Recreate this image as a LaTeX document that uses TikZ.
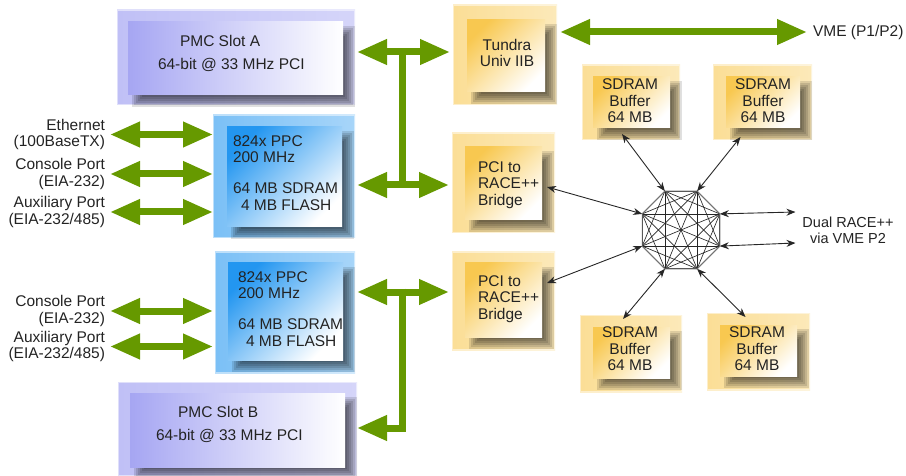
\documentclass[tikz,border=0pt]{standalone}
\usepackage{fontspec}
\setmainfont{Liberation Sans}
\usetikzlibrary{arrows.meta,calc}
\definecolor{gr}{RGB}{102,153,0}
\definecolor{pmccol}{RGB}{150,150,240}
\definecolor{ppccol}{RGB}{35,150,240}
\definecolor{yelcol}{RGB}{248,200,80}
\definecolor{txtcol}{RGB}{35,35,35}
\pgfdeclarelayer{bg}
\pgfdeclarelayer{shadowlayer}
\pgfsetlayers{bg,shadowlayer,main}
\begin{document}
\begin{tikzpicture}[x=1pt,y=-1pt,
 txt/.style={font=\fontsize{15.5}{16.5}\selectfont, text=txtcol, inner sep=0pt, outer sep=0pt},
 frame/.style={rectangle, inner sep=0pt, outer sep=0pt, left color=#1!60!white, right color=#1!40!white, draw=white, draw opacity=0.5, line width=2.5pt},
 innerbox/.style 2 args={rectangle, inner sep=0pt, outer sep=0pt, top color=#1, bottom color=white, shading angle=#2},
 shadowstep/.style={fill=black, fill opacity=0.12},
 garrow/.style={draw=gr, line width=7pt, {Triangle[length=30pt,width=24pt]}-{Triangle[length=30pt,width=24pt]}},
 garrowend/.style={draw=gr, line width=7pt, line join=miter, -{Triangle[length=30pt,width=24pt]}},
 gline/.style={draw=gr, line width=7pt},
 barrow/.style={draw=black!85, line width=0.9pt, {Stealth[length=9pt,width=7pt]}-{Stealth[length=9pt,width=7pt]}},
 mesh/.style={draw=black!85, line width=0.65pt},
 meshout/.style={draw=black!55, line width=0.9pt}
]
\useasboundingbox (0,0) rectangle (906,476);

% outer frames
\begin{pgfonlayer}{bg}
\node[frame=pmccol, minimum width=238pt, minimum height=95pt] (pmcA) at (236,57.5) {};
\node[frame=pmccol, minimum width=239pt, minimum height=94pt] (pmcB) at (237.5,429) {};
\node[frame=ppccol, minimum width=142pt, minimum height=123pt] (ppc1) at (284,176.5) {};
\node[frame=ppccol, minimum width=140pt, minimum height=121pt] (ppc2) at (285,312.5) {};
\node[frame=yelcol, minimum width=104pt, minimum height=100pt] (tundra) at (505,55) {};
\node[frame=yelcol, minimum width=103pt, minimum height=100pt] (br1) at (503.5,183) {};
\node[frame=yelcol, minimum width=103pt, minimum height=98pt] (br2) at (503.5,301) {};
\node[frame=yelcol, minimum width=98pt, minimum height=75pt] (sdA) at (631,102.5) {};
\node[frame=yelcol, minimum width=99pt, minimum height=75pt] (sdB) at (762.5,102.5) {};
\node[frame=yelcol, minimum width=102pt, minimum height=77pt] (sdC) at (631,353.5) {};
\node[frame=yelcol, minimum width=103pt, minimum height=77pt] (sdD) at (758.5,351.5) {};
\end{pgfonlayer}

% inner boxes
\node[innerbox={pmccol!85!white}{90}, minimum width=215pt, minimum height=73pt] (pmcAi) at (235.5,58.5) {};
\node[innerbox={pmccol!85!white}{90}, minimum width=215pt, minimum height=74pt] (pmcBi) at (237.5,430) {};
\node[innerbox={ppccol}{45}, minimum width=115pt, minimum height=100pt] (ppc1i) at (284.5,177) {};
\node[innerbox={ppccol}{45}, minimum width=115pt, minimum height=97pt] (ppc2i) at (285.5,311.5) {};
\node[innerbox={yelcol}{45}, minimum width=78pt, minimum height=72pt] (tundrai) at (506,56) {};
\node[innerbox={yelcol}{45}, minimum width=77pt, minimum height=73pt] (br1i) at (503.5,183.5) {};
\node[innerbox={yelcol}{45}, minimum width=77pt, minimum height=74pt] (br2i) at (503.5,300) {};
\node[innerbox={yelcol}{45}, minimum width=77pt, minimum height=51pt] (sdAi) at (631.5,102.5) {};
\node[innerbox={yelcol}{45}, minimum width=74pt, minimum height=51pt] (sdBi) at (763,102.5) {};
\node[innerbox={yelcol}{45}, minimum width=77pt, minimum height=51pt] (sdCi) at (631.5,352.5) {};
\node[innerbox={yelcol}{45}, minimum width=77pt, minimum height=51pt] (sdDi) at (758.5,350.5) {};

% soft shadows between frame and inner box
\begin{pgfonlayer}{shadowlayer}
\foreach \bx in {pmcAi,pmcBi,ppc1i,ppc2i,tundrai,br1i,br2i,sdAi,sdBi,sdCi,sdDi} {
  \foreach \e in {-2,0,2,4,6,8} {
    \fill[shadowstep] ($(\bx.north west)+(12-\e,12-\e)$) rectangle ($(\bx.south east)+(4+\e,4+\e)$);
  }
}
\end{pgfonlayer}

% texts
\node[txt, align=left, anchor=west] (pmcAt) at (158,53.5) {\hspace*{22pt}PMC Slot A\\[6.5pt]64-bit @ 33 MHz PCI};
\node[txt, align=left, anchor=west] (pmcBt) at (156,424) {\hspace*{22pt}PMC Slot B\\[6.5pt]64-bit @ 33 MHz PCI};
\node[txt, align=left, anchor=west] (ppc1t) at (233,173) {824x PPC\\200 MHz\\[14.5pt]64 MB SDRAM\\\hspace*{8pt}4 MB FLASH};
\node[txt, align=left, anchor=west] (ppc2t) at (238,309) {824x PPC\\200 MHz\\[14.5pt]64 MB SDRAM\\\hspace*{8pt}4 MB FLASH};
\node[txt, align=center] (tundrat) at (507,53) {Tundra\\Univ IIB};
\node[txt, align=left, anchor=west] (br1t) at (478,185) {PCI to\\RACE++\\Bridge};
\node[txt, align=left, anchor=west] (br2t) at (478,299) {PCI to\\RACE++\\Bridge};
\node[txt, align=center] (sdAt) at (630,101) {SDRAM\\Buffer\\64 MB};
\node[txt, align=center] (sdBt) at (763,101) {SDRAM\\Buffer\\64 MB};
\node[txt, align=center] (sdCt) at (630,349) {SDRAM\\Buffer\\64 MB};
\node[txt, align=center] (sdDt) at (757,349) {SDRAM\\Buffer\\64 MB};

\node[txt, align=right, anchor=east] (eth) at (105,134.5) {Ethernet\\(100BaseTX)};
\node[txt, align=right, anchor=east] (con1) at (105,174) {Console Port\\(EIA-232)};
\node[txt, align=right, anchor=east] (aux1) at (105,212) {Auxiliary Port\\(EIA-232/485)};
\node[txt, align=right, anchor=east] (con2) at (105,311) {Console Port\\(EIA-232)};
\node[txt, align=right, anchor=east] (aux2) at (105,346.5) {Auxiliary Port\\(EIA-232/485)};
\node[txt, anchor=west] (vme) at (813,32) {VME (P1/P2)};
\node[txt, align=center, font=\fontsize{14.5}{16.5}\selectfont] (dual) at (848,230.5) {Dual RACE++\\via VME P2};

% green connectors
\coordinate (jA) at (402,52);
\coordinate (jB) at (402,185);
\coordinate (jC) at (402,292);
\coordinate (jD) at (402,428);
\draw[gline] (jA) -- (jB);
\draw[garrow, shorten <=2pt, shorten >=3pt] (jA -| pmcA.east) -- (jA -| tundra.west);
\draw[garrow, shorten <=2pt, shorten >=3pt] (jB -| ppc1.east) -- (jB -| br1.west);
\draw[garrow, shorten <=2pt, shorten >=3pt] (jC -| ppc2.east) -- (jC -| br2.west);
\draw[garrowend] ($(jC)+(0,-3.5)$) -- (jD) -- (jD -| pmcB.east);
\draw[garrow, shorten <=5pt] (eth.east) -- (eth.east -| ppc1.west);
\draw[garrow, shorten <=5pt] (con1.east) -- (con1.east -| ppc1.west);
\draw[garrow, shorten <=5pt] (aux1.east) -- (aux1.east -| ppc1.west);
\draw[garrow, shorten <=5pt, shorten >=2pt] (con2.east) -- (con2.east -| ppc2.west);
\draw[garrow, shorten <=5pt, shorten >=2pt] (aux2.east) -- (aux2.east -| ppc2.west);
\draw[garrow, shorten <=3pt, shorten >=6pt] (vme.west -| tundra.east) -- (vme.west);

% octagon mesh
\coordinate (v1) at (697.1,191.2);
\coordinate (v2) at (719.8,213.9);
\coordinate (v3) at (719.8,246.1);
\coordinate (v4) at (697.1,268.8);
\coordinate (v5) at (664.9,268.8);
\coordinate (v6) at (642.2,246.1);
\coordinate (v7) at (642.2,213.9);
\coordinate (v8) at (664.9,191.2);
\foreach \i in {1,...,7} {
  \pgfmathtruncatemacro\nxt{\i+1}
  \foreach \j in {\nxt,...,8} { \draw[mesh] (v\i) -- (v\j); }
}
\draw[meshout] (v1) -- (v2) -- (v3) -- (v4) -- (v5) -- (v6) -- (v7) -- (v8) -- cycle;

% black connectors
\coordinate (pA) at ($(sdA.south)+(-9,-6)$);
\coordinate (pB) at ($(sdB.south)+(-22,-3)$);
\coordinate (pC) at ($(sdC.north)+(-8,4)$);
\coordinate (pD) at ($(sdD.north)+(-13,4)$);
\coordinate (pE) at ($(br1.east)+(-8,4)$);
\coordinate (pF) at ($(br2.east)+(-8,-18)$);
\coordinate (pG) at ($(dual.west)+(-7,-18.5)$);
\coordinate (pH) at ($(dual.west)+(-7,12.5)$);
\draw[barrow] (v8) -- (pA);
\draw[barrow] (v1) -- (pB);
\draw[barrow] (v5) -- (pC);
\draw[barrow] (v4) -- (pD);
\draw[barrow] (v7) -- (pE);
\draw[barrow] (v6) -- (pF);
\draw[barrow] (v2) -- (pG);
\draw[barrow] (v3) -- (pH);
\end{tikzpicture}
\end{document}
